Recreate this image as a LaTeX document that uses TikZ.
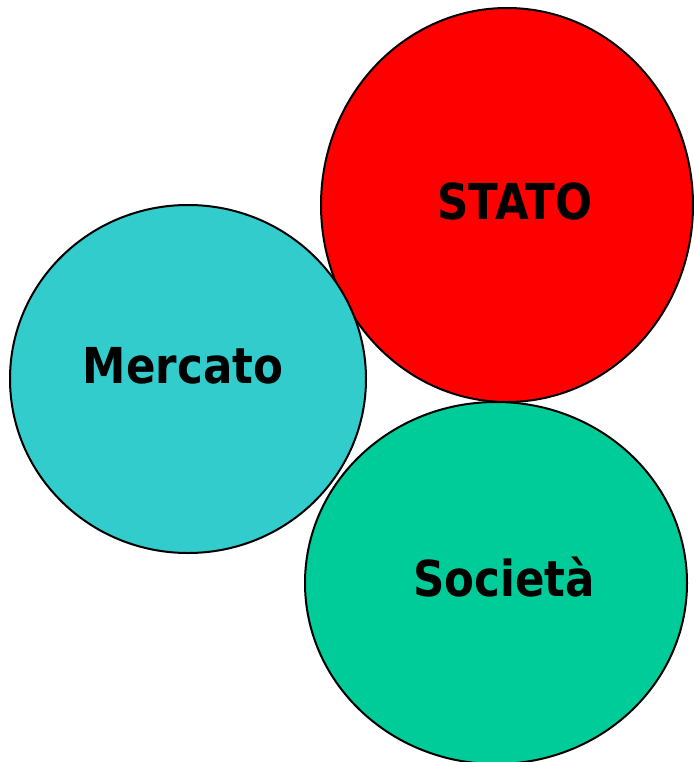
\documentclass[tikz,border=0pt]{standalone}
\usepackage{fontspec}
\usepackage{tikz}
\usetikzlibrary{shapes.geometric}
\newfontfamily\labelfont{DejaVu Sans}[FakeStretch=0.88]
\definecolor{statored}{HTML}{FF0000}
\definecolor{mercatocyan}{HTML}{33CCCC}
\definecolor{societagreen}{HTML}{00CC99}

\begin{document}
\begin{tikzpicture}[x=1pt, y=-1pt,
		cerchio/.style = {ellipse, draw, line width=2pt, inner sep=0pt},
		etichetta/.style = {anchor=base, font=\labelfont\bfseries\fontsize{49.5}{58}\selectfont}]
		\useasboundingbox (0,0) rectangle (693,762);
		
		\node[cerchio, fill=statored, minimum width=372pt, minimum height=394pt] (stato) at (507,205) {};
		\node[cerchio, fill=mercatocyan, minimum width=356pt, minimum height=348pt] (mercato) at (188,379) {};
		\node[cerchio, fill=societagreen, minimum width=382pt, minimum height=362pt] (societa) at (496,583) {};
		
		\node[etichetta] (statoTesto) at (515,219) {STATO};
		\node[etichetta] (mercatoTesto) at (183,383) {Mercato};
		\node[etichetta] (societaTesto) at (504,596) {Società};
	\end{tikzpicture}
\end{document}
